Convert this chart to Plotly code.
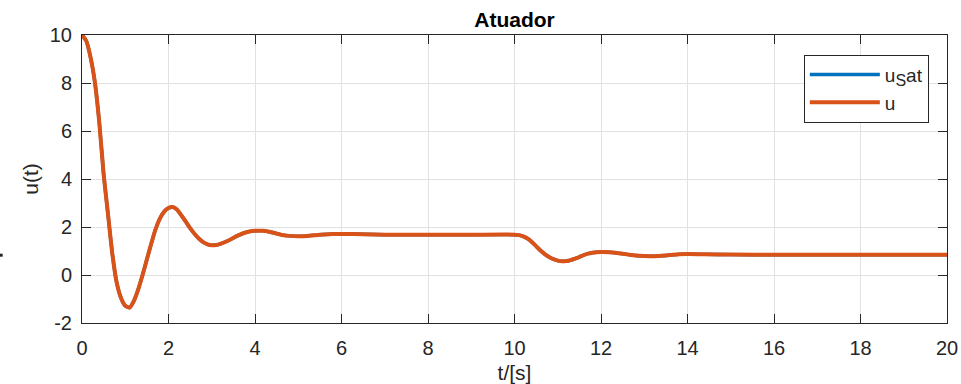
import plotly.graph_objects as go

# Time samples [s] and actuator signal u(t); the saturated signal u_Sat coincides with u
t = [0.0, 0.1, 0.2, 0.3, 0.4, 0.5, 0.6, 0.7, 0.8, 0.9, 1.0, 1.1, 1.2, 1.3, 1.4,
     1.5, 1.6, 1.7, 1.8, 1.9, 2.0, 2.1, 2.2, 2.3, 2.4, 2.5, 2.6, 2.7, 2.8, 2.9,
     3.0, 3.1, 3.2, 3.4, 3.6, 3.8, 4.0, 4.2, 4.4, 4.6, 4.8, 5.0, 5.2, 5.4, 5.6,
     5.8, 6.0, 6.5, 7.0, 8.0, 9.0, 10.0, 10.1, 10.2, 10.3, 10.4, 10.5, 10.6,
     10.7, 10.8, 10.9, 11.0, 11.1, 11.2, 11.3, 11.4, 11.5, 11.6, 11.7, 11.8,
     11.9, 12.0, 12.2, 12.4, 12.6, 12.8, 13.0, 13.2, 13.4, 13.6, 13.8, 14.0,
     14.4, 15.0, 16.0, 18.0, 20.0]
u = [10.0, 9.75, 9.05, 8.0, 6.35, 4.2, 2.55, 0.9, -0.3, -0.95, -1.28, -1.36,
     -1.08, -0.6, 0.0, 0.65, 1.3, 1.9, 2.35, 2.64, 2.79, 2.83, 2.72, 2.48, 2.22,
     1.95, 1.72, 1.52, 1.37, 1.28, 1.24, 1.25, 1.3, 1.45, 1.64, 1.78, 1.84, 1.84,
     1.77, 1.68, 1.63, 1.61, 1.63, 1.66, 1.69, 1.71, 1.71, 1.70, 1.68, 1.68,
     1.68, 1.68, 1.66, 1.61, 1.52, 1.38, 1.20, 1.02, 0.87, 0.75, 0.66, 0.60,
     0.57, 0.58, 0.62, 0.68, 0.75, 0.83, 0.89, 0.93, 0.95, 0.96, 0.95, 0.91,
     0.86, 0.81, 0.79, 0.78, 0.80, 0.83, 0.86, 0.87, 0.86, 0.85, 0.84, 0.84, 0.84]
u_sat = list(u)

x_ticks = [0, 2, 4, 6, 8, 10, 12, 14, 16, 18, 20]
y_ticks = [-2, 0, 2, 4, 6, 8, 10]
y_tick_labels = ["-2", "0", "2", "4", "6", "8", "10"]

FONT = "Liberation Sans, Arial, Helvetica, sans-serif"
INK = "#262626"
BLUE = "#0072BD"
ORANGE = "#D95319"

fig = go.Figure()
fig.add_trace(go.Scatter(x=t, y=u_sat, mode="lines",
                         name="u<sub><span style='font-size:16px'>S</span></sub>at",
                         line=dict(color=BLUE, width=3.4, shape="spline", smoothing=0.6)))
fig.add_trace(go.Scatter(x=t, y=u, mode="lines", name="u",
                         line=dict(color=ORANGE, width=4, shape="spline", smoothing=0.6)))

axis_common = dict(
    showline=True, linecolor=INK, linewidth=1, mirror="ticks",
    ticks="inside", ticklen=9, tickwidth=1, tickcolor=INK,
    showgrid=True, gridcolor="#e1e1e1", gridwidth=1, zeroline=False,
    automargin=False,
    tickfont=dict(family=FONT, size=20, color=INK),
)

fig.update_xaxes(range=[0, 20], tickvals=x_ticks, ticklabelstandoff=7,
                 title=dict(text="t/[s]", font=dict(family=FONT, size=21, color=INK), standoff=9),
                 **axis_common)
fig.update_yaxes(range=[-2, 10], tickvals=y_ticks, ticktext=y_tick_labels, ticklabelstandoff=5,
                 title=dict(text="u(t)", font=dict(family=FONT, size=21, color=INK), standoff=5),
                 **axis_common)

fig.update_layout(
    width=961, height=384,
    margin=dict(l=82, r=14, t=35, b=61),
    paper_bgcolor="white", plot_bgcolor="white",
    title=dict(text="<b>Atuador</b>", x=0.5, xref="paper", xanchor="center",
               y=1, yref="paper", yanchor="bottom", pad=dict(b=8),
               font=dict(family=FONT, size=21, color="black")),
    legend=dict(x=0.979, y=0.932, xanchor="right", yanchor="top",
                bgcolor="white", bordercolor=INK, borderwidth=1,
                font=dict(family=FONT, size=19, color=INK),
                itemwidth=70, tracegroupgap=0),
    showlegend=True,
    shapes=[dict(type="rect", xref="paper", yref="paper",
                 x0=-0.0952, x1=-0.0917, y0=0.2302, y1=0.2406,
                 fillcolor=INK, line=dict(width=0))],
)

fig.write_html("out.html")
